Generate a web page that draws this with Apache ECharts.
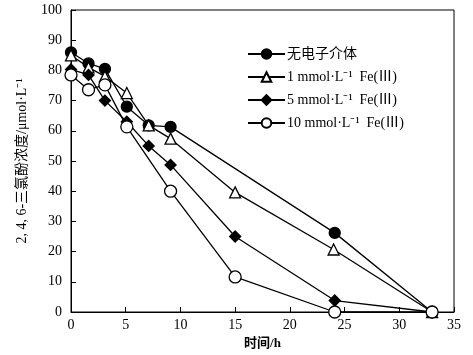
<!DOCTYPE html>
<html><head><meta charset="utf-8">
<script src="https://cdn.jsdelivr.net/npm/echarts@6/dist/echarts.min.js"></script>
<style>html,body{margin:0;padding:0;background:#fff}#c{width:473px;height:355px}</style>
</head><body><div id="c"></div>
<script>
const seriesNames = ['无电子介体', '1 mmol·L⁻¹  Fe(Ⅲ)', '5 mmol·L⁻¹  Fe(Ⅲ)', '10 mmol·L⁻¹  Fe(Ⅲ)'];
const tNone = [0, 1.6, 3.1, 5.1, 7.1, 9.1, 24.1, 33];
const vNone = [86, 82.3, 80.5, 68, 61.8, 61.3, 26.2, 0];
const tFe1 = [0, 1.6, 3.1, 5.1, 7.1, 9.1, 15, 24, 33];
const vFe1 = [85, 81, 78, 72.5, 61.8, 57.4, 39.6, 20.7, 0];
const tFe5 = [0, 1.6, 3.1, 5.1, 7.1, 9.1, 15, 24.1, 33];
const vFe5 = [80.3, 78.5, 70, 63, 55, 48.7, 25, 3.8, 0];
const tFe10 = [0, 1.6, 3.1, 5.1, 9.1, 15, 24.1, 33];
const vFe10 = [78.5, 73.6, 75.2, 61.3, 40, 11.6, 0, 0];
const xTicks = [0, 5, 10, 15, 20, 25, 30, 35];
const yTicks = [0, 10, 20, 30, 40, 50, 60, 70, 80, 90, 100];

const serif = '"Liberation Serif", "Noto Sans CJK SC", serif';
const pair = (t, v) => t.map((x, i) => [x, v[i]]);
const symbols = ['circle', 'triangle', 'diamond', 'circle'];
const fills = ['#000', '#fff', '#000', '#fff'];
const sizes = [11, 11, 11, 12];
const datas = [pair(tNone, vNone), pair(tFe1, vFe1), pair(tFe5, vFe5), pair(tFe10, vFe10)];

const chart = echarts.init(document.getElementById('c'));
chart.setOption({
  animation: false,
  backgroundColor: '#fff',
  grid: { left: 71, right: 19, top: 10, bottom: 42, show: true, borderColor: '#000', borderWidth: 1 },
  legend: {
    orient: 'vertical', left: 242, top: 42, itemWidth: 37, itemHeight: 12, itemGap: 9,
    textStyle: { fontFamily: serif, fontSize: 14, color: '#000', padding: [0, 0, 0, -3] },
    data: seriesNames
  },
  xAxis: {
    type: 'value', min: 0, max: 35, interval: 5,
    name: '时间/h', nameLocation: 'middle', nameGap: 25,
    nameTextStyle: { fontFamily: serif, fontSize: 13, color: '#000', fontWeight: 'bold' },
    axisLine: { lineStyle: { color: '#000', width: 1 } },
    axisTick: { inside: true, length: 5, lineStyle: { color: '#000' } },
    axisLabel: { fontFamily: serif, fontSize: 14, color: '#000', margin: 6,
      formatter: v => xTicks.includes(v) ? String(v) : '' },
    splitLine: { show: false }
  },
  yAxis: {
    type: 'value', min: 0, max: 100, interval: 10,
    name: '2, 4, 6-三氯酚浓度/μmol·L⁻¹', nameLocation: 'middle', nameGap: 42, nameRotate: 90,
    nameTextStyle: { fontFamily: serif, fontSize: 14, color: '#000' },
    axisLine: { lineStyle: { color: '#000', width: 1 } },
    axisTick: { inside: true, length: 5, lineStyle: { color: '#000' } },
    axisLabel: { fontFamily: serif, fontSize: 14, color: '#000', margin: 9,
      formatter: v => yTicks.includes(v) ? String(v) : '' },
    splitLine: { show: false }
  },
  series: seriesNames.map((n, i) => ({
    name: n, type: 'line', data: datas[i],
    symbol: symbols[i], symbolSize: sizes[i], showAllSymbol: true,
    lineStyle: { color: '#000', width: 1.3 },
    itemStyle: { color: fills[i], borderColor: '#000', borderWidth: 1.3 },
    z: 2 + i
  }))
});
</script></body></html>
